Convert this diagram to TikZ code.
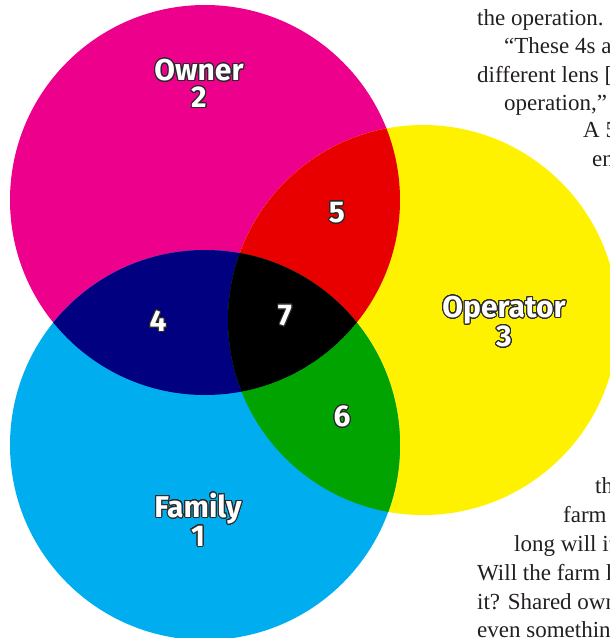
\documentclass[tikz,border=0pt]{standalone}
\usepackage{fontspec}
\setmainfont{Liberation Serif}
\newfontfamily\labelfont{Fira Sans}
\usepackage{contour}
\contourlength{1pt}
\contournumber{32}

\definecolor{ownermag}{HTML}{EC008C}
\definecolor{operyel}{HTML}{FFF200}
\definecolor{famcyan}{HTML}{00AEEF}
\definecolor{ownoper}{HTML}{E80000}
\definecolor{ownfam}{HTML}{000080}
\definecolor{operfam}{HTML}{00A300}
\definecolor{bodygray}{HTML}{231F20}
\definecolor{rimgray}{HTML}{2A2A2A}

\newcommand{\rimtext}[1]{\contour{rimgray}{#1}}

\begin{document}
\begin{tikzpicture}[
   x=1pt, y=-1pt,
   setlabel/.style={align=center, inner sep=0pt, text=white,
      font=\labelfont\bfseries\fontsize{30}{27}\selectfont},
   bodyline/.style={anchor=base west, inner sep=0pt, text=bodygray,
      font=\fontsize{23}{28}\selectfont}]

\useasboundingbox (0,0) rectangle (610,638);

\coordinate (owner) at (205,200);
\coordinate (operator) at (423,320);
\coordinate (family) at (205,445);
\def\rad{195}

% the three sets
\fill[ownermag] (owner) circle[radius=\rad];
\fill[operyel] (operator) circle[radius=\rad];
\fill[famcyan] (family) circle[radius=\rad];

% overlaps
\begin{scope}
    \clip (owner) circle[radius=\rad];
    \fill[ownoper] (operator) circle[radius=\rad];
    \fill[ownfam] (family) circle[radius=\rad];
    \clip (operator) circle[radius=\rad];
    \fill[black] (family) circle[radius=\rad];
\end{scope}
\begin{scope}
    \clip (operator) circle[radius=\rad];
    \clip (family) circle[radius=\rad];
    \fill[operfam] (operator) circle[radius=\rad];
    \clip (owner) circle[radius=\rad];
    \fill[black] (owner) circle[radius=\rad];
\end{scope}

\node[setlabel] (ownerlbl) at (199,84) {\rimtext{Owner}\\\rimtext{2}};
\node[setlabel] (operlbl) at (504,322) {\rimtext{Operator}\\\rimtext{3}};
\node[setlabel] (famlbl) at (198,520) {\rimtext{Family}\\\rimtext{1}};
\node[setlabel] (reg4) at (158,322) {\rimtext{4}};
\node[setlabel] (reg5) at (337,213) {\rimtext{5}};
\node[setlabel] (reg6) at (342,417) {\rimtext{6}};
\node[setlabel] (reg7) at (285,316) {\rimtext{7}};

% article text running past the edge
\foreach \x/\y/\t [count=\i] in {477/25/{the operation.}, 504/53/{“These 4s a},
    477/82/{different lens [}, 504/110/{operation,”}, 583/137/{A 5},
    592/166/{en}, 595/493/{th}, 563/522/{farm}, 514/551/{long will it},
    477/580/{Will the farm l}, 477/609/{it? Shared own}, 477/637/{even somethin}}
    \node[bodyline] (txt\i) at (\x,\y) {\t};

\end{tikzpicture}
\end{document}
